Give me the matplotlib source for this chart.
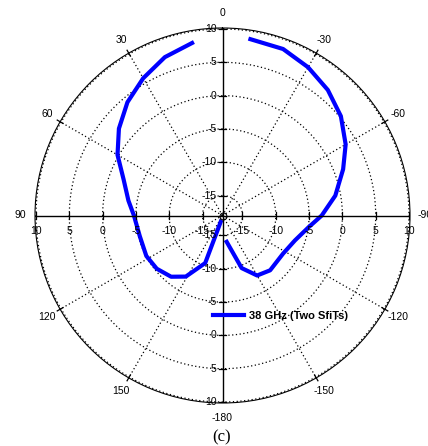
import numpy as np
import matplotlib.pyplot as plt

# 读图得到的方向图数据 (角度, dB)
left_theta = [10, 20, 30, 40, 50, 60, 70, 81, 90, 104, 118, 129, 140, 149, 160, 164]
left_db = [8.3, 7.3, 5.8, 4.2, 2.3, 0.2, -2.2, -3.7, -4.7, -5.2, -5.05, -5.3, -6.0, -7.3, -10.4, -17.0]
right_theta = [-9, -20, -30, -40, -50, -60, -69, -80, -90, -98, -109, -122, -139, -150, -160, -171]
right_db = [8.8, 8.6, 7.7, 6.6, 5.2, 3.35, 1.4, -0.8, -3.1, -5.0, -6.5, -7.25, -7.1, -7.6, -9.6, -14.0]

r_ticks = [-15, -10, -5, 0, 5, 10]
angle_ticks = [0, 30, 60, 90, 120, 150, 180, -150, -120, -90, -60, -30]
angle_labels = ['0', '30', '60', '90', '120', '150', '-180', '-150', '-120', '-90', '-60', '-30']
series_name = '38 GHz (Two SfiTs)'

rmin = -18
rmax = 10.15
R = rmax - rmin

plt.rcParams['font.family'] = ['Liberation Sans', 'DejaVu Sans']

fig = plt.figure(figsize=(4.28, 4.46), dpi=100)
rect = [35 / 428, 43 / 446, 375 / 428, 375 / 446]
ax = fig.add_axes(rect, projection='polar')
ax.set_theta_zero_location('N')
ax.set_theta_direction(1)
ax.set_ylim(rmin, rmax)
ax.grid(False)
ax.set_xticks([])
ax.set_yticks([])
ax.spines['polar'].set_linewidth(0.8)

dot = (0, (1, 2))
full = np.linspace(0, 2 * np.pi, 721)
for r in r_ticks:
    ax.plot(full, np.full_like(full, r), color='black', lw=0.9, ls=dot)
for a in [30, 60, 120, 150, 210, 240, 300, 330]:
    ax.plot([np.radians(a)] * 2, [rmin, 10], color='black', lw=0.9, ls=dot)

line, = ax.plot(np.radians(left_theta), left_db, color='#0000ff', lw=3, label=series_name)
ax.plot(np.radians(right_theta), right_db, color='#0000ff', lw=3)

# 覆盖一个直角坐标轴画坐标轴线、刻度和文字
ax2 = fig.add_axes(rect)
ax2.set_xlim(-R, R)
ax2.set_ylim(-R, R)
ax2.axis('off')
ext = R + 0.6
ax2.plot([-ext, ext], [0, 0], color='black', lw=1.0)
ax2.plot([0, 0], [-ext, ext], color='black', lw=1.0)
ax2.plot([0], [0], marker='o', ms=5, mfc='none', mec='black', mew=0.8)

for r in r_ticks:
    d = r - rmin
    for s in [1, -1]:
        ax2.plot([s * d, s * d], [-0.5, 0.5], color='black', lw=0.9)
        ax2.plot([-0.5, 0.5], [s * d, s * d], color='black', lw=0.9)
        ax2.text(s * d, -2.4, str(r), ha='center', va='center', fontsize=7.5)
        ax2.text(-0.9, s * d, str(r), ha='right', va='center', fontsize=7.5)

for a, lab in zip(angle_ticks, angle_labels):
    t = np.radians(a)
    dx, dy = -np.sin(t), np.cos(t)
    if a % 90 != 0:
        ax2.plot([dx * (R - 0.5), dx * (R + 0.5)], [dy * (R - 0.5), dy * (R + 0.5)],
                 color='black', lw=0.9)
    rl = 30.4
    ax2.text(dx * rl, dy * rl, lab, ha='center', va='center', fontsize=7.5, clip_on=False)

fig.legend(handles=[line], loc='center left', bbox_to_anchor=(207 / 428, 1 - 315.7 / 446),
           frameon=False, handlelength=2.8, handletextpad=0.5, borderpad=0,
           prop={'weight': 'bold', 'size': 8})

fig.text(222 / 428, 1 - 437 / 446, '(c)', ha='center', va='center', fontsize=12,
         family=['Liberation Serif', 'DejaVu Serif'])

fig.savefig('out.png', dpi=100)
